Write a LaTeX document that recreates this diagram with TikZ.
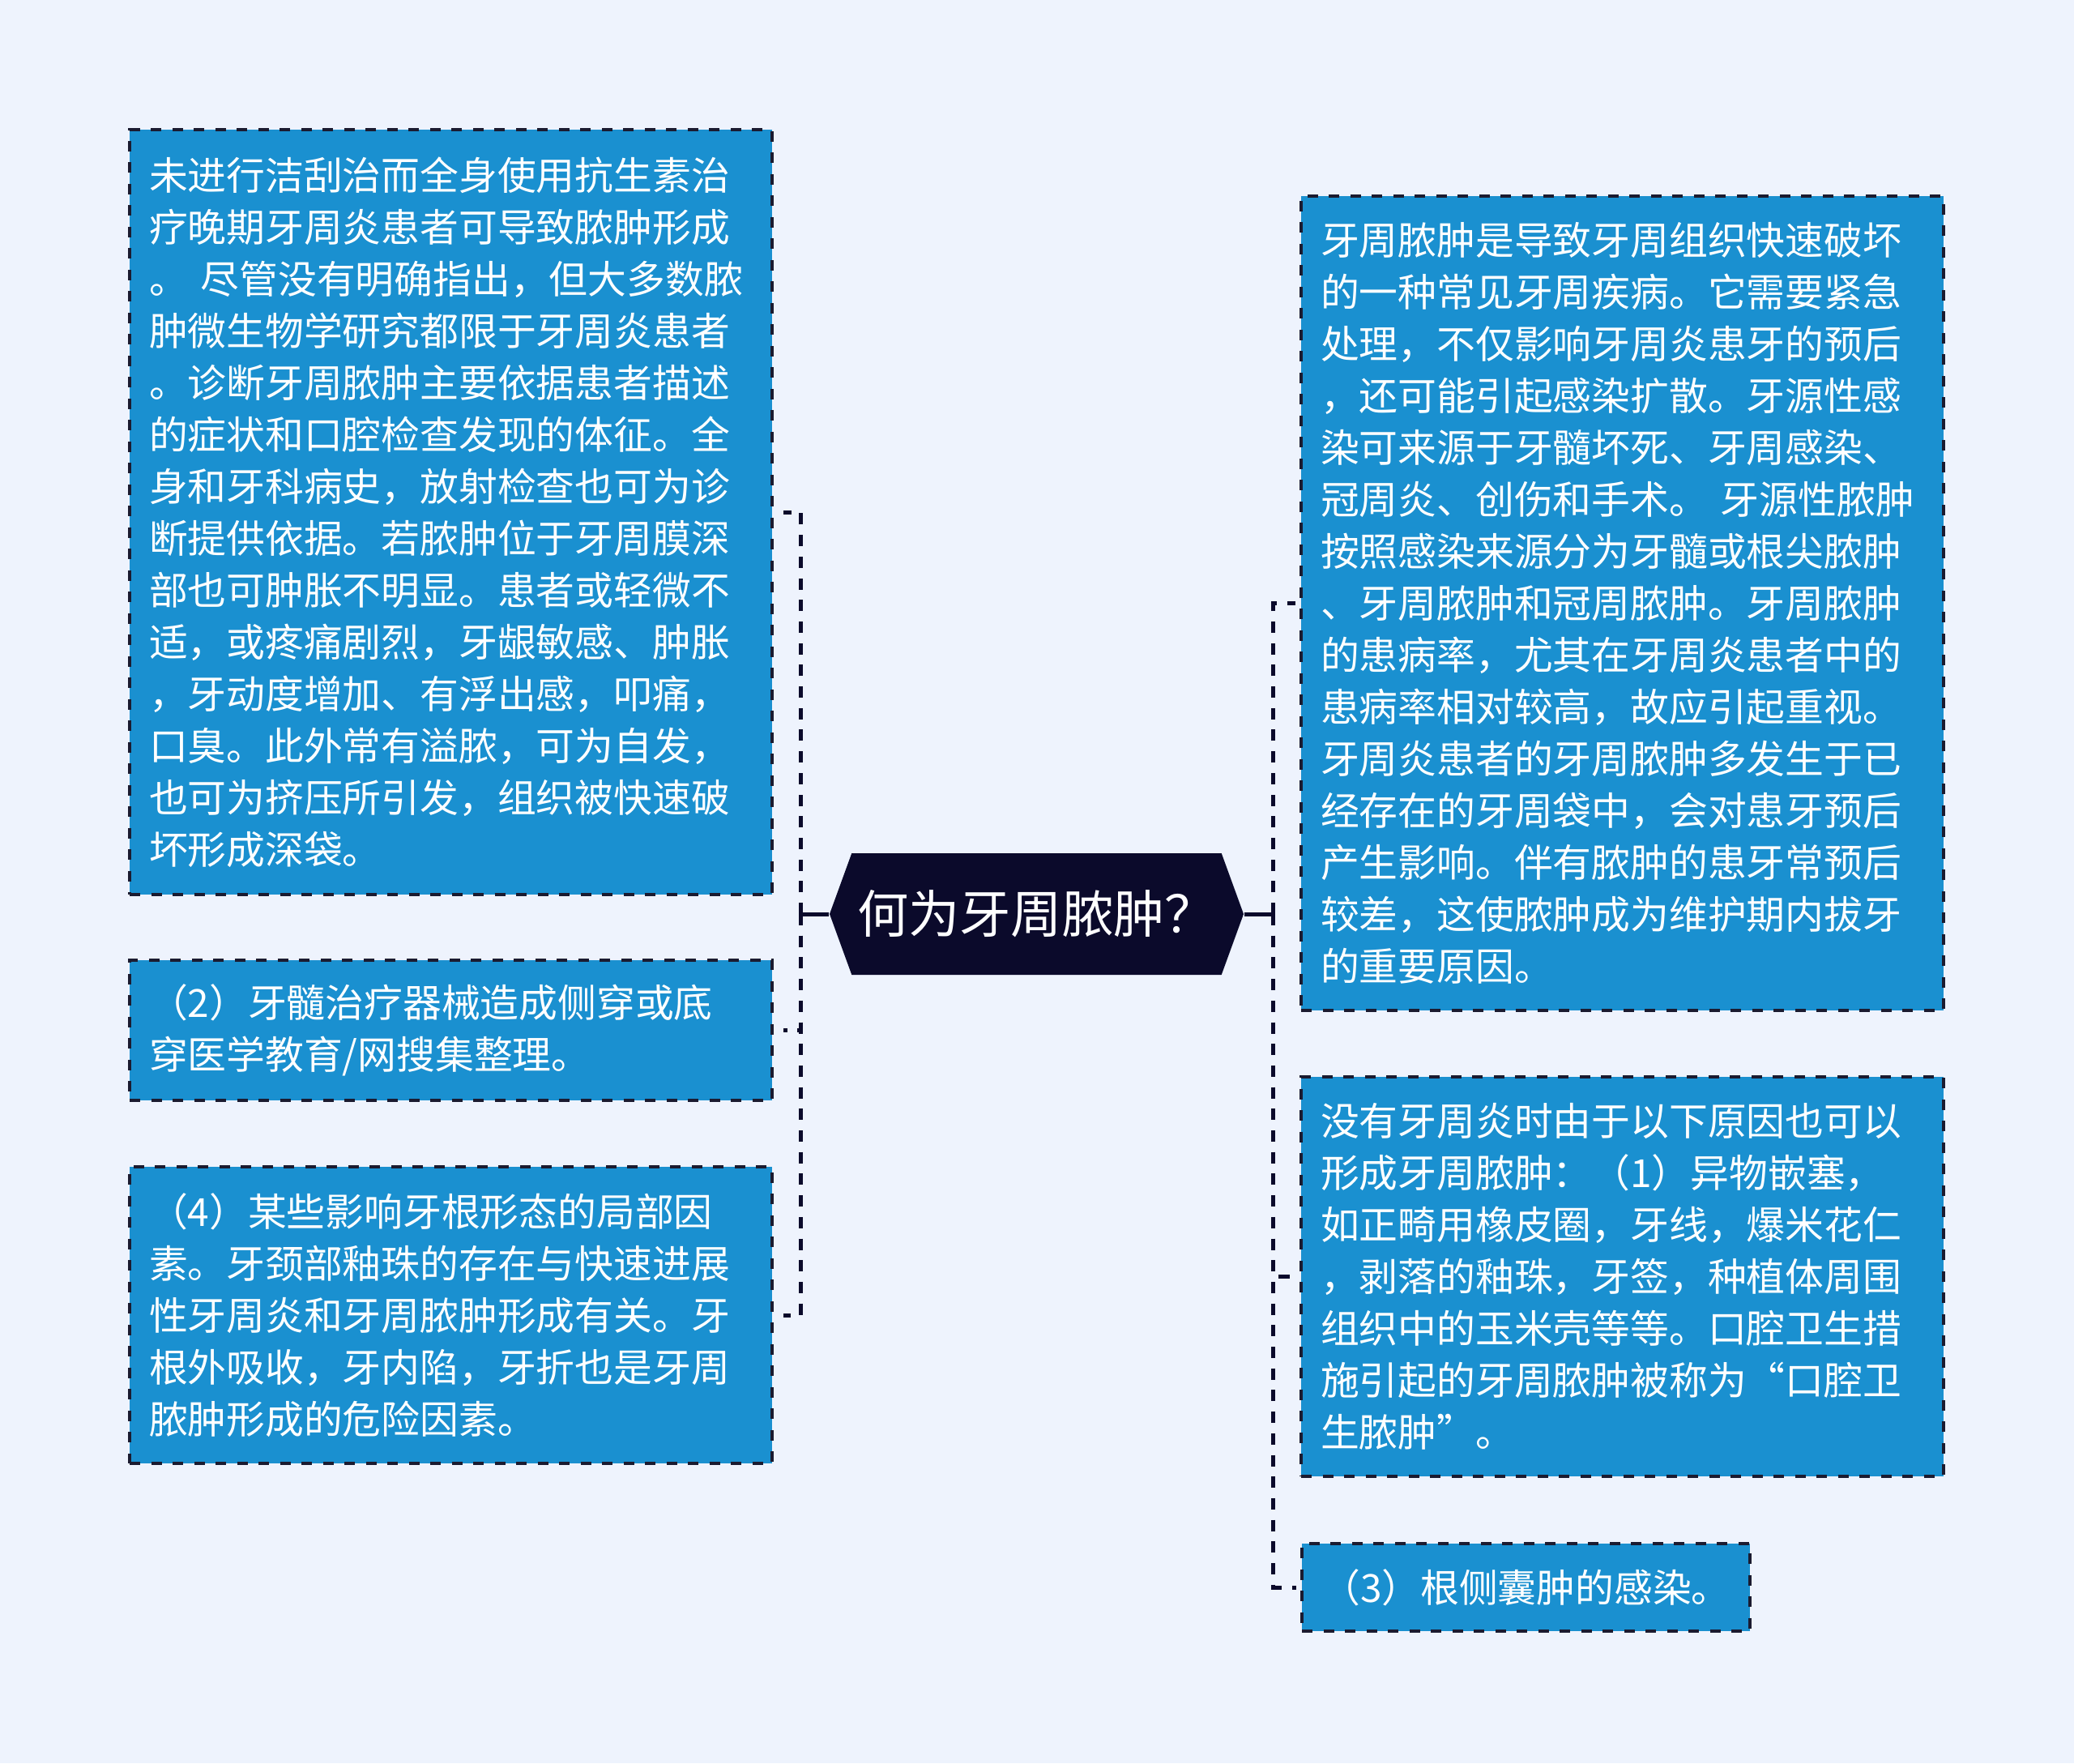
\documentclass[tikz,border=0pt]{standalone}
\usepackage{fontspec}
\setmainfont{Noto Sans CJK SC}
\usetikzlibrary{shapes.symbols}
\definecolor{pageBg}{HTML}{EEF3FD}
\definecolor{cardBlue}{HTML}{1A90D0}
\definecolor{inkNavy}{HTML}{0B0A2B}
\definecolor{edgeDark}{HTML}{1B1B30}
\tikzset{
  card/.style={rectangle, draw=edgeDark, line width=0.035cm,
    dash pattern=on 0.13cm off 0.135cm, fill=cardBlue, text=white,
    align=left, inner xsep=0.24cm, inner ysep=0.1cm, text width=7.45cm,
    font=\fontsize{13.6pt}{18.2pt}\selectfont},
  rootnode/.style={signal, signal to=west and east, signal pointer angle=140,
    fill=inkNavy, text=white, minimum width=5.11cm, minimum height=1.5cm,
    inner sep=0pt, font=\fontsize{18pt}{22pt}\selectfont},
  stem/.style={draw=inkNavy, line width=0.05cm},
  link/.style={stem, dash pattern=on 0.14cm off 0.127cm},
}

\begin{document}
\begin{tikzpicture}
    % page
    \fill[pageBg] (0,0) rectangle (25.6,-21.76);
    % centre topic
    \node[rootnode] (root) at (12.795,-11.28) {何为牙周脓肿？};
    % left branches
    \node[card, minimum height=9.44cm] (L1) at (5.565,-6.32)
      {未进行洁刮治而全身使用抗生素治\\
       疗晚期牙周炎患者可导致脓肿形成\\
       。~尽管没有明确指出，但大多数脓\\
       肿微生物学研究都限于牙周炎患者\\
       。诊断牙周脓肿主要依据患者描述\\
       的症状和口腔检查发现的体征。全\\
       身和牙科病史，放射检查也可为诊\\
       断提供依据。若脓肿位于牙周膜深\\
       部也可肿胀不明显。患者或轻微不\\
       适，或疼痛剧烈，牙龈敏感、肿胀\\
       ，牙动度增加、有浮出感，叩痛，\\
       口臭。此外常有溢脓，可为自发，\\
       也可为挤压所引发，组织被快速破\\
       坏形成深袋。};
    \node[card, minimum height=1.73cm] (L2) at (5.565,-12.715)
      {（2）牙髓治疗器械造成侧穿或底\\
       穿医学教育/网搜集整理。};
    \node[card, minimum height=3.66cm] (L3) at (5.565,-16.23)
      {（4）某些影响牙根形态的局部因\\
       素。牙颈部釉珠的存在与快速进展\\
       性牙周炎和牙周脓肿形成有关。牙\\
       根外吸收，牙内陷，牙折也是牙周\\
       脓肿形成的危险因素。};
    % right branches
    \node[card, minimum height=10.05cm] (R1) at (20.025,-7.445)
      {牙周脓肿是导致牙周组织快速破坏\\
       的一种常见牙周疾病。它需要紧急\\
       处理，不仅影响牙周炎患牙的预后\\
       ，还可能引起感染扩散。牙源性感\\
       染可来源于牙髓坏死、牙周感染、\\
       冠周炎、创伤和手术。~牙源性脓肿\\
       按照感染来源分为牙髓或根尖脓肿\\
       、牙周脓肿和冠周脓肿。牙周脓肿\\
       的患病率，尤其在牙周炎患者中的\\
       患病率相对较高，故应引起重视。\\
       牙周炎患者的牙周脓肿多发生于已\\
       经存在的牙周袋中，会对患牙预后\\
       产生影响。伴有脓肿的患牙常预后\\
       较差，这使脓肿成为维护期内拔牙\\
       的重要原因。};
    \node[card, minimum height=4.93cm] (R2) at (20.025,-15.755)
      {没有牙周炎时由于以下原因也可以\\
       形成牙周脓肿：（1）异物嵌塞，\\
       如正畸用橡皮圈，牙线，爆米花仁\\
       ，剥落的釉珠，牙签，种植体周围\\
       组织中的玉米壳等等。口腔卫生措\\
       施引起的牙周脓肿被称为“口腔卫\\
       生脓肿”。};
    \node[card, text width=, align=center, minimum width=5.53cm,
          minimum height=1.08cm] (R3) at (18.835,-19.59)
      {（3）根侧囊肿的感染。};
    % connectors
    \coordinate (lhub) at ([xshift=-0.35cm]root.west);
    \coordinate (rhub) at ([xshift=0.36cm]root.east);
    \draw[stem] (root.west) -- (lhub);
    \draw[stem] (root.east) -- (rhub);
    \foreach \c in {L1,L2,L3}
      \draw[link] (lhub) |- ([xshift=0.12cm]\c.east);
    \foreach \c in {R1,R2,R3}
      \draw[link] (rhub) |- ([xshift=-0.05cm]\c.west);
\end{tikzpicture}
\end{document}
